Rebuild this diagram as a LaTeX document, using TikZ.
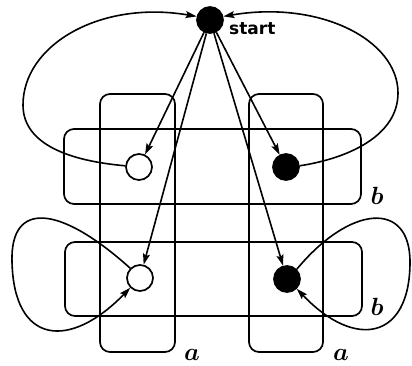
\documentclass[tikz,border=0pt]{standalone}
\usepackage{fontspec}
\newfontfamily\labelfont{DejaVu Sans}
\usetikzlibrary{arrows.meta}
\tikzset{
  st/.style={circle, draw, line width=1.7pt, minimum size=26pt, inner sep=0pt},
  blk/.style={st, fill=black},
  wht/.style={st, fill=white},
  grp/.style={draw, line width=1.7pt, rounded corners=10pt},
  arr/.style={line width=1.6pt, -{Stealth[length=11pt,width=7pt,inset=2pt]}},
  lab/.style={inner sep=0pt, font=\fontsize{24}{26}\selectfont\boldmath}
}
\begin{document}
\begin{tikzpicture}[x=1pt,y=-1pt]
\useasboundingbox (0,0) rectangle (412,366);
% group rectangles
\draw[grp] (100,94) rectangle (175,352);
\draw[grp] (249,94) rectangle (323,352);
\draw[grp] (64,129) rectangle (361,204);
\draw[grp] (65,242) rectangle (362,316);
% states
\node[blk] (s) at (210,20) {};
\node[wht] (tl) at (139,167) {};
\node[blk] (tr) at (286,167) {};
\node[wht] (bl) at (140,278) {};
\node[blk] (br) at (287,279) {};
% labels
\node[inner sep=0pt, anchor=west, font=\labelfont\bfseries\fontsize{17}{19}\selectfont] (lstart) at (229,29) {start};
\node[lab] (lb1) at (377,196) {$b$};
\node[lab] (lb2) at (377,307) {$b$};
\node[lab] (la1) at (192,355) {$a$};
\node[lab] (la2) at (341,355) {$a$};
% straight arrows
\draw[arr] (s) -- (tl);
\draw[arr] (s) -- (bl);
\draw[arr] (s) -- (tr);
\draw[arr] (s) -- (br);
% loops back to start
\draw[arr] (tl.175) .. controls (60,160) and (23,140) .. (23,105)
  .. controls (23,45) and (100,0) .. (s.165);
\draw[arr] (tr.5) .. controls (350,158) and (398,135) .. (398,93)
  .. controls (398,40) and (320,0) .. (s.15);
% self loops
\draw[arr] (bl.135) .. controls (60,205) and (10,200) .. (12,262)
  .. controls (14,345) and (70,350) .. (bl.225);
\draw[arr] (br.45) .. controls (350,205) and (410,200) .. (410,262)
  .. controls (410,340) and (355,350) .. (br.-45);
\end{tikzpicture}
\end{document}
